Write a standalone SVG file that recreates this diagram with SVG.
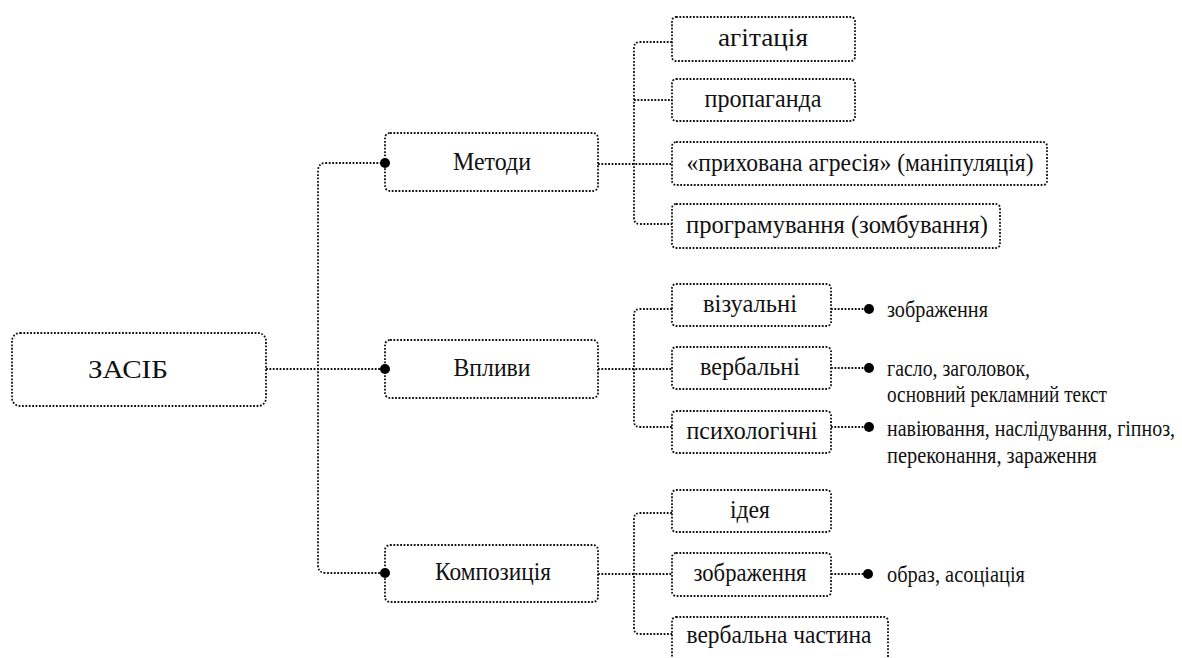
<svg xmlns="http://www.w3.org/2000/svg" width="1182" height="658" viewBox="0 0 1182 658">
<style>
.box{fill:#fff;stroke:#111;stroke-width:1.8;stroke-dasharray:1.8 1.6}
.ln{fill:none;stroke:#111;stroke-width:1.8;stroke-dasharray:1.8 1.6}
text{font-family:'Liberation Serif','DejaVu Serif','Times New Roman',serif;fill:#111}
.t{font-size:26px;text-anchor:middle}
.s{font-size:23px}
.dot{fill:#000}
</style>
<rect width="1182" height="658" fill="#fff"/>
<g id="zasib"><rect class="box" x="12" y="333" width="254" height="73" rx="8"/><text class="t" x="128" y="378" textLength="80" lengthAdjust="spacingAndGlyphs">ЗАСІБ</text></g>
<g id="metody"><rect class="box" x="385" y="133" width="213" height="58" rx="5"/><text class="t" x="492" y="170" textLength="78" lengthAdjust="spacingAndGlyphs">Методи</text></g>
<g id="vplyvy"><rect class="box" x="385" y="340" width="213" height="58" rx="5"/><text class="t" x="492" y="376" textLength="77" lengthAdjust="spacingAndGlyphs">Впливи</text></g>
<g id="kompozytsiia"><rect class="box" x="385" y="545" width="213" height="57" rx="5"/><text class="t" x="493" y="580" textLength="116" lengthAdjust="spacingAndGlyphs">Композиція</text></g>
<g id="ahitatsiia"><rect class="box" x="672" y="17" width="183" height="44" rx="4"/><text class="t" x="763" y="46" textLength="90" lengthAdjust="spacingAndGlyphs">агітація</text></g>
<g id="propahanda"><rect class="box" x="672" y="79" width="183" height="42" rx="4"/><text class="t" x="763" y="107" textLength="117" lengthAdjust="spacingAndGlyphs">пропаганда</text></g>
<g id="manipuliatsiia"><rect class="box" x="672" y="142" width="375" height="43" rx="4"/><text class="t" x="860" y="171" textLength="347" lengthAdjust="spacingAndGlyphs">«прихована агресія» (маніпуляція)</text></g>
<g id="prohramuvannia"><rect class="box" x="672" y="204" width="328" height="44" rx="4"/><text class="t" x="837" y="233" textLength="302" lengthAdjust="spacingAndGlyphs">програмування (зомбування)</text></g>
<g id="vizualni"><rect class="box" x="672" y="284" width="159" height="42" rx="4"/><text class="t" x="750" y="312" textLength="94" lengthAdjust="spacingAndGlyphs">візуальні</text></g>
<g id="verbalni"><rect class="box" x="672" y="347" width="159" height="42" rx="4"/><text class="t" x="750" y="375" textLength="100" lengthAdjust="spacingAndGlyphs">вербальні</text></g>
<g id="psykholohichni"><rect class="box" x="672" y="411" width="159" height="42" rx="4"/><text class="t" x="752" y="439" textLength="131" lengthAdjust="spacingAndGlyphs">психологічні</text></g>
<g id="ideia"><rect class="box" x="672" y="490" width="159" height="42" rx="4"/><text class="t" x="750" y="518" textLength="40" lengthAdjust="spacingAndGlyphs">ідея</text></g>
<g id="zobrazhennia"><rect class="box" x="672" y="553" width="159" height="43" rx="4"/><text class="t" x="750" y="581" textLength="113" lengthAdjust="spacingAndGlyphs">зображення</text></g>
<g id="verbalna"><rect class="box" x="672" y="617" width="216" height="50" rx="4"/><text class="t" x="779" y="643" textLength="185" lengthAdjust="spacingAndGlyphs">вербальна частина</text></g>
<g id="lbl-vizualni"><text class="s" x="887" y="317" textLength="101" lengthAdjust="spacingAndGlyphs">зображення</text></g>
<g id="lbl-verbalni"><text class="s" x="887" y="376" textLength="143" lengthAdjust="spacingAndGlyphs">гасло, заголовок,</text><text class="s" x="887" y="402" textLength="220" lengthAdjust="spacingAndGlyphs">основний рекламний текст</text></g>
<g id="lbl-psykh"><text class="s" x="887" y="436" textLength="288" lengthAdjust="spacingAndGlyphs">навіювання, наслідування, гіпноз,</text><text class="s" x="887" y="463" textLength="210" lengthAdjust="spacingAndGlyphs">переконання, зараження</text></g>
<g id="lbl-zobr"><text class="s" x="887" y="582" textLength="138" lengthAdjust="spacingAndGlyphs">образ, асоціація</text></g>
<g id="connectors">
<path class="ln" d="M266 369 H385"/>
<path class="ln" d="M385 163 H326 Q318 163 318 171 V565 Q318 573 326 573 H385"/>
<path class="ln" d="M598 164 H672"/>
<path class="ln" d="M672 42 H640 Q634 42 634 48 V218 Q634 224 640 224 H672"/>
<path class="ln" d="M634 100 H672"/>
<path class="ln" d="M598 369 H672"/>
<path class="ln" d="M672 309 H640 Q634 309 634 315 V421 Q634 427 640 427 H672"/>
<path class="ln" d="M598 574 H672"/>
<path class="ln" d="M672 513 H640 Q634 513 634 519 V628 Q634 634 640 634 H672"/>
<path class="ln" d="M831 309 H869"/>
<path class="ln" d="M831 368 H869"/>
<path class="ln" d="M831 427 H869"/>
<path class="ln" d="M831 574 H868"/>
<circle class="dot" cx="385" cy="163" r="5"/>
<circle class="dot" cx="385" cy="369" r="5"/>
<circle class="dot" cx="385" cy="573" r="5"/>
<circle class="dot" cx="869" cy="309" r="5"/>
<circle class="dot" cx="869" cy="368" r="5"/>
<circle class="dot" cx="869" cy="427" r="5"/>
<circle class="dot" cx="868" cy="574" r="5"/>
</g>
</svg>
